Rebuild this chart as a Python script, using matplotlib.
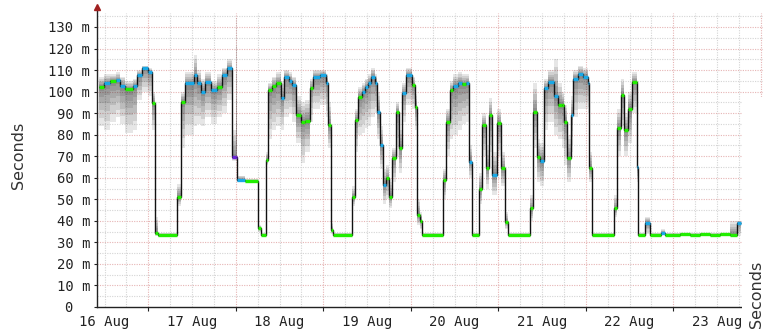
import numpy as np
import matplotlib

matplotlib.use("Agg")
import matplotlib.pyplot as plt
from matplotlib.patches import Rectangle


# Время в часах от 16 Aug 00:00: начало каждой ступеньки медианы.
seg_start = [
    -1.5, -0.1, 1.5, 3.2, 4.3, 5.6, 7.8, 8.9, 10.3, 11.9,
    13.0, 13.9, 14.7, 19.9, 21.0, 22.1, 24.5, 25.4, 26.5, 27.6,
    29.2, 30.9, 32.2, 33.6, 35.0, 36.1, 36.3, 38.5, 42.1, 42.9,
    44.3, 44.8, 45.9, 47.0, 48.4, 49.2, 50.6, 51.4, 52.5, 53.9,
    55.0, 56.4, 57.2, 59.1, 60.8, 61.3, 62.1, 62.7, 67.9, 68.7,
    69.5, 70.6, 71.5, 72.3, 73.1, 74.2, 74.7, 75.6, 76.4, 77.2,
    78.0, 78.9, 80.0, 80.8, 81.6, 82.7, 84.3, 85.2, 85.7, 86.5,
    87.1, 92.8, 93.7, 94.8, 95.6, 97.0, 98.1, 99.2, 100.0, 100.8,
    102.7, 103.6, 104.6, 105.5, 106.3, 107.7, 108.8, 109.9, 110.7, 116.7,
    117.5, 118.6, 119.5, 120.6, 121.7, 123.3, 124.4, 125.5, 126.0, 126.9,
    128.0, 128.5, 129.9, 131.2, 132.6, 132.9, 133.7, 139.8, 140.6, 141.7,
    142.5, 143.6, 144.7, 146.1, 146.3, 148.2, 149.6, 152.6, 153.7, 157.8,
    160.6, 163.3, 166.1, 168.8, 171.6, 173.5,
]
seg_end = 174.6

# Медиана, мс.
median = [
    102.3, 104.0, 105.0, 105.5, 102.5, 101.0, 102.7, 107.7, 110.8, 109.0,
    94.6, 34.5, 33.4, 51.2, 95.3, 103.8, 107.5, 104.0, 100.0, 104.5,
    100.7, 102.3, 107.7, 110.8, 69.8, 69.8, 59.0, 58.5, 36.5, 33.4,
    68.2, 100.7, 102.5, 104.0, 97.0, 107.0, 105.0, 103.0, 89.0, 86.0,
    86.5, 101.6, 107.0, 107.7, 104.0, 84.5, 35.7, 33.4, 51.0, 86.8,
    97.6, 100.0, 102.0, 104.0, 107.0, 104.0, 90.7, 75.2, 56.6, 59.7,
    51.2, 69.0, 90.7, 73.7, 99.2, 107.7, 103.0, 93.0, 42.7, 40.0,
    33.4, 59.0, 86.0, 100.7, 102.5, 104.0, 103.5, 104.0, 67.5, 33.4,
    55.0, 84.5, 64.4, 89.0, 61.3, 85.3, 64.4, 39.6, 33.4, 45.8,
    90.7, 69.8, 68.0, 101.5, 104.6, 98.0, 94.0, 93.8, 86.0, 69.0,
    89.0, 106.0, 108.0, 107.0, 104.0, 64.4, 33.4, 45.8, 83.0, 98.4,
    82.0, 92.0, 104.6, 65.0, 33.4, 39.0, 33.4, 34.5, 33.4, 33.9,
    33.2, 33.9, 33.2, 33.8, 33.4, 39.0,
]

# Потери пакетов для каждой ступеньки: g - нет потерь, b - немного, p - больше.
loss = list(
    "gbgbbgbbbb" "gggggbbbbb" "bgbbppbggg" "ggggbbbbgg"
    "ggbbbggggg" "gbbbbbbbbg" "ggggbbgggg" "ggggbbgbbg"
    "ggggbggggg" "ggbbbbgggg" "bbbbbggggg" "gggbgbgbgg"
    "gggggb"
)

# Границы "дыма" (разброс пингов), мс.
smoke_lo = [
    84, 82, 86, 88, 85, 81, 82, 96, 100, 98,
    82, 33, 32.5, 47, 74, 80, 84, 85, 84, 88,
    85, 88, 90, 96, 68, 68, 58, 58, 35, 33,
    66, 78, 82, 84, 82, 88, 90, 86, 76, 67,
    72, 86, 92, 94, 88, 74, 34, 33, 47, 72,
    80, 81, 83, 84, 88, 90, 78, 64, 48, 50,
    46, 58, 70, 62, 86, 94, 92, 82, 38, 36,
    33, 50, 70, 78, 80, 82, 85, 86, 60, 33,
    48, 70, 55, 72, 52, 70, 56, 36, 33, 40,
    74, 58, 56, 82, 86, 80, 78, 74, 66, 58,
    72, 88, 92, 92, 90, 58, 33, 42, 70, 84,
    70, 76, 90, 58, 33, 34, 33, 33.5, 33, 33,
    33, 33, 33, 33, 33, 33,
]
smoke_hi = [
    107, 108, 108, 109, 107, 105, 106, 110, 112, 111,
    100, 42, 34.5, 57, 100, 109, 117, 110, 106, 109,
    105, 108, 111, 115, 82, 134, 61, 59.5, 38, 34.5,
    72, 104, 107, 109, 105, 110, 109, 107, 98, 95,
    96, 106, 110, 110, 108, 95, 39, 34.5, 56, 92,
    102, 104, 106, 108, 111, 108, 100, 84, 64, 66,
    58, 74, 95, 82, 104, 111, 107, 99, 50, 44,
    34.5, 64, 92, 105, 108, 109, 108, 108, 75, 34.5,
    62, 90, 75, 97, 72, 92, 72, 44, 34.5, 52,
    104, 78, 76, 106, 110, 115, 104, 100, 94, 80,
    98, 110, 112, 111, 107, 72, 34.5, 52, 92, 106,
    90, 100, 109, 76, 34.5, 42, 34.5, 36, 34.5, 34.5,
    34.5, 34.5, 34.5, 34.5, 40, 40,
]

day_hours = [0, 24, 48, 72, 96, 120, 144, 168]
day_labels = ["16 Aug", "17 Aug", "18 Aug", "19 Aug", "20 Aug", "21 Aug", "22 Aug", "23 Aug"]
y_values = list(range(0, 140, 10))

LOSS_COLORS = {"g": "#22ee00", "b": "#1aa8e6", "p": "#6a22d8"}
MONO = "DejaVu Sans Mono"


def main():
    fig = plt.figure(figsize=(7.63, 3.30), dpi=100)
    ax = fig.add_axes([97 / 763, 23 / 330, 666 / 763, 294 / 330])
    x0, x1 = -2.06, 180.6
    ax.set_xlim(x0, x1)
    ax.set_ylim(0, 136.5)

    # Сетка как в rrdtool: пунктир, крупная красноватая, мелкая серая.
    dots = (0, (1, 1.2))
    for v in range(5, 140, 5):
        col = "#e6b4b4" if v % 10 == 0 else "#d4d4d4"
        ax.axhline(v, color=col, lw=0.8, ls=dots, zorder=0)
    for h in range(0, 181, 6):
        col = "#e6b4b4" if h % 24 == 12 else "#d4d4d4"
        ax.axvline(h, color=col, lw=0.8, ls=dots, zorder=0)

    edges = np.array(seg_start + [seg_end])
    med = np.array(median)
    lo = np.array(smoke_lo, dtype=float)
    hi = np.array(smoke_hi, dtype=float)

    # "Дым": несколько полупрозрачных слоев, темнее у медианы.
    for f in [1.0, 0.8, 0.6, 0.42, 0.26, 0.12]:
        ax.stairs(med + f * (hi - med), edges, baseline=med - f * (med - lo),
                  fill=True, color="#1e1e1e", alpha=0.11, lw=0, zorder=1)

    ax.stairs(med, edges, baseline=None, color="#111111", lw=1.0, zorder=2)
    ax.hlines(med, edges[:-1], edges[1:], colors=[LOSS_COLORS[c] for c in loss],
              lw=2.4, zorder=3)

    for side in ["top", "right"]:
        ax.spines[side].set_visible(False)
    for side in ["left", "bottom"]:
        ax.spines[side].set_color("#222222")
        ax.spines[side].set_linewidth(1.0)
        ax.spines[side].set_zorder(4)
    ax.spines["left"].set_bounds(0, 139)
    ax.plot([x0], [139.5], marker="^", color="#a02020", markersize=5,
            clip_on=False, zorder=5)

    ax.set_yticks(y_values)
    ax.set_yticklabels([f"{v} m" if v else "0  " for v in y_values])
    ax.set_xticks(day_hours)
    ax.set_xticklabels(day_labels)
    ax.set_xticks([h for h in range(12, 181, 24)], minor=True)
    ax.tick_params(axis="y", length=2, width=0.8, pad=3, labelsize=10,
                   colors="#222222")
    ax.tick_params(axis="x", which="major", length=0, pad=6, labelsize=10,
                   colors="#222222")
    ax.tick_params(axis="x", which="minor", length=3, width=0.8, colors="#222222")
    for lab in ax.get_xticklabels() + ax.get_yticklabels():
        lab.set_family(MONO)

    fig.text(18 / 763, 1 - 155 / 330, "Seconds", rotation=90, ha="center",
             va="center", fontsize=11.5, color="#333333")

    # Белый прямоугольник справа внизу и вторая подпись оси.
    fig.patches.append(Rectangle((742 / 763, 0), 21 / 763, 233 / 330,
                                 transform=fig.transFigure, facecolor="white",
                                 edgecolor="none", zorder=5))
    fig.text(756 / 763, 2 / 330, "Seconds", rotation=90, ha="center",
             va="bottom", fontsize=11.5, color="#333333", zorder=6)

    fig.savefig("out.png", dpi=100)
    plt.close(fig)


if __name__ == "__main__":
    main()
